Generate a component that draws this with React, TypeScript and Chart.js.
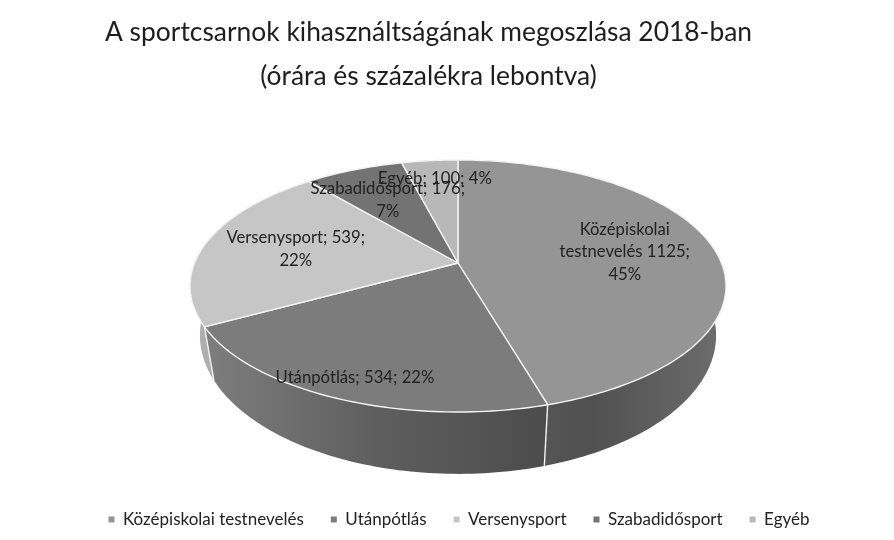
import React, { useEffect, useRef } from "react";
import { Chart, registerables } from "chart.js";

Chart.register(...registerables);

const categories = ["Középiskolai testnevelés", "Utánpótlás", "Versenysport", "Szabadidősport", "Egyéb"];
const hours = [1125, 534, 539, 176, 100];
const titleLines = ["A sportcsarnok kihasználtságának megoszlása 2018-ban", "(órára és százalékra lebontva)"];
const labelLines = [
  ["Középiskolai", "testnevelés 1125;", "45%"],
  ["Utánpótlás; 534; 22%"],
  ["Versenysport; 539;", "22%"],
  ["Szabadidősport; 176;", "7%"],
  ["Egyéb; 100; 4%"],
];
const topColors = ["#959595", "#7c7c7c", "#c6c6c6", "#737373", "#b8b8b8"];
const sideStops: string[][] = [
  ["#5e5e5e", "#505050", "#6e6e6e"],
  ["#7e7e7e", "#5e5e5e", "#4c4c4c"],
  ["#b0b0b0", "#a8a8a8", "#a0a0a0"],
  ["#555555", "#555555", "#555555"],
  ["#777777", "#777777", "#777777"],
];
const labelRadius = [0.65, 0.87, 0.64, 0.64, 0.795];

// perspective projection of the pie's unit disc on the page
const CX = 458, CY = 263, R = 263.5, A = 121.8, P = -0.1825;
const project = (u: number, v: number) => {
  const w = 1 + P * v;
  return { x: CX + (R * u) / w, y: CY + (A * v) / w };
};
const lower = (p: { x: number; y: number }) => ({
  x: CX + (p.x - CX) * 0.963,
  y: CY + 47 + (p.y - CY) * 1.1,
});

const rimPoints = (start: number, end: number) => {
  const n = Math.max(2, Math.ceil((end - start) / 0.02));
  const pts = [];
  for (let i = 0; i <= n; i++) {
    const a = start + ((end - start) * i) / n;
    pts.push(project(Math.cos(a), Math.sin(a)));
  }
  return pts;
};

const pie3d = {
  id: "pie3d",
  beforeDatasetDraw(chart: any, args: any) {
    const { ctx } = chart;
    const arcs = args.meta.data;
    ctx.save();
    // sides
    arcs.forEach((arc: any, i: number) => {
      const pts = rimPoints(arc.startAngle, arc.endAngle);
      const xs = pts.map((p) => p.x);
      const g = ctx.createLinearGradient(Math.min(...xs), 0, Math.max(...xs), 0);
      sideStops[i].forEach((c, k) => g.addColorStop(k / 2, c));
      ctx.beginPath();
      pts.forEach((p, k) => (k ? ctx.lineTo(p.x, p.y) : ctx.moveTo(p.x, p.y)));
      [...pts].reverse().forEach((p) => {
        const b = lower(p);
        ctx.lineTo(b.x, b.y);
      });
      ctx.closePath();
      ctx.fillStyle = g;
      ctx.fill();
    });
    // side dividers
    ctx.strokeStyle = "#f2f2f2";
    ctx.lineWidth = 1.4;
    arcs.forEach((arc: any) => {
      if (Math.sin(arc.startAngle) > 0) {
        const p = project(Math.cos(arc.startAngle), Math.sin(arc.startAngle));
        const b = lower(p);
        ctx.beginPath();
        ctx.moveTo(p.x, p.y);
        ctx.lineTo(b.x, b.y);
        ctx.stroke();
      }
    });
    // top faces
    arcs.forEach((arc: any, i: number) => {
      const pts = rimPoints(arc.startAngle, arc.endAngle);
      ctx.beginPath();
      ctx.moveTo(CX, CY);
      pts.forEach((p) => ctx.lineTo(p.x, p.y));
      ctx.closePath();
      ctx.fillStyle = topColors[i];
      ctx.fill();
      ctx.strokeStyle = "#f4f4f4";
      ctx.lineWidth = 1.4;
      ctx.lineJoin = "round";
      ctx.stroke();
    });
    // data labels
    ctx.fillStyle = "#222222";
    ctx.font = "16.7px Lato";
    ctx.textAlign = "center";
    ctx.textBaseline = "middle";
    arcs.forEach((arc: any, i: number) => {
      const mid = (arc.startAngle + arc.endAngle) / 2;
      const r = labelRadius[i];
      const c = project(r * Math.cos(mid), r * Math.sin(mid));
      const lh = 22.5;
      labelLines[i].forEach((line, k) => {
        ctx.fillText(line, c.x, c.y + (k - (labelLines[i].length - 1) / 2) * lh);
      });
    });
    ctx.restore();
    return false;
  },
  afterLayout(chart: any) {
    // the title and legend sit off the canvas centre in the reference
    chart.titleBlock.left = 0;
    chart.titleBlock.right = 857;
    chart.legend.left = 0;
    chart.legend.right = 918;
  },
};

export default function App() {
  const ref = useRef<HTMLCanvasElement>(null);
  useEffect(() => {
    document.body.style.margin = "0";
    document.body.style.background = "#fff";
    const chart = new Chart(ref.current!, {
      type: "pie",
      data: {
        labels: categories,
        datasets: [{ data: hours, backgroundColor: topColors, borderWidth: 0 }],
      },
      options: {
        responsive: false,
        animation: false,
        layout: { padding: { top: 0, bottom: 2 } },
        plugins: {
          tooltip: { enabled: false },
          title: {
            display: true,
            text: titleLines,
            color: "#1e1e1e",
            font: { family: "Lato", size: 26.4, weight: "normal", lineHeight: 1.66 },
            padding: { top: 11, bottom: 10 },
          },
          legend: {
            position: "bottom",
            labels: {
              color: "#222222",
              font: { family: "Lato", size: 17 },
              boxWidth: 6,
              boxHeight: 6,
              padding: 27,
            },
          },
        },
      },
      plugins: [pie3d],
    } as any);
    return () => chart.destroy();
  }, []);
  return (
    <canvas
      ref={ref}
      width={894}
      height={540}
      style={{ display: "block", width: 894, height: 540, filter: "blur(0.5px)" }}
    />
  );
}
